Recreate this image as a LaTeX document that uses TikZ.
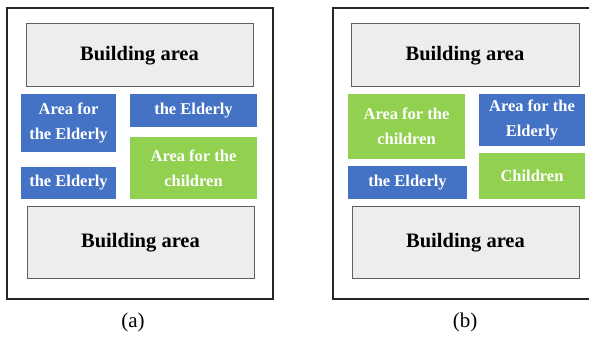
\documentclass[tikz,border=0pt]{standalone}
\usepackage{fontspec}
\setmainfont{Liberation Serif}
\begin{document}
\definecolor{zoneblue}{HTML}{4472C4}
\definecolor{zonegreen}{HTML}{92D050}
\definecolor{buildfill}{HTML}{EDEDED}
\definecolor{buildline}{HTML}{606060}
\begin{tikzpicture}[x=1pt,y=-1pt,
  frame/.style={draw=black!85,line width=1.4pt},
  building/.style={draw=buildline,fill=buildfill,line width=1pt,inner sep=0pt,
    font=\bfseries\fontsize{20.5}{24}\selectfont,text=black},
  zone/.style={draw=none,inner sep=0pt,align=center,text=white,
    font=\bfseries\fontsize{16.5}{25}\selectfont},
  elderly/.style={zone,fill=zoneblue},
  kids/.style={zone,fill=zonegreen},
  caption/.style={font=\fontsize{21}{24}\selectfont}]
\clip (0,0) rectangle (589,339);
\fill[white] (0,0) rectangle (589,339);

% ---- layout (a) ----
\draw[frame] (7,8) rectangle (273,299);
\node[building,minimum width=227pt,minimum height=63pt] (topA) at (139.5,55.5) {Building area};
\node[elderly,minimum width=95pt,minimum height=58pt] (eldA1) at (68.5,123) {Area for\\the Elderly};
\node[elderly,minimum width=127pt,minimum height=33pt] (eldA2) at (193.5,110.5) {the Elderly};
\node[kids,minimum width=127pt,minimum height=62pt] (kidA) at (193.5,168) {Area for the\\children};
\node[elderly,minimum width=95pt,minimum height=32pt] (eldA3) at (68.5,183) {the Elderly};
\node[building,minimum width=227pt,minimum height=71pt] (botA) at (140.5,242.5) {Building area};
\node[caption] (capA) at (133,322) {(a)};

% ---- layout (b) ----
\draw[frame] (600,8) -- (333,8) -- (333,299) -- (600,299);
\node[building,minimum width=228pt,minimum height=63pt] (topB) at (465,55.5) {Building area};
\node[kids,minimum width=117pt,minimum height=65pt] (kidB1) at (406.5,126.5) {Area for the\\children};
\node[elderly,minimum width=106pt,minimum height=52pt] (eldB1) at (532,120) {Area for the\\Elderly};
\node[elderly,minimum width=119pt,minimum height=33pt] (eldB2) at (407.5,182.5) {the Elderly};
\node[kids,minimum width=106pt,minimum height=46pt] (kidB2) at (532,176) {Children};
\node[building,minimum width=227pt,minimum height=71pt] (botB) at (465.5,242.5) {Building area};
\node[caption] (capB) at (465,322) {(b)};
\end{tikzpicture}
\end{document}
